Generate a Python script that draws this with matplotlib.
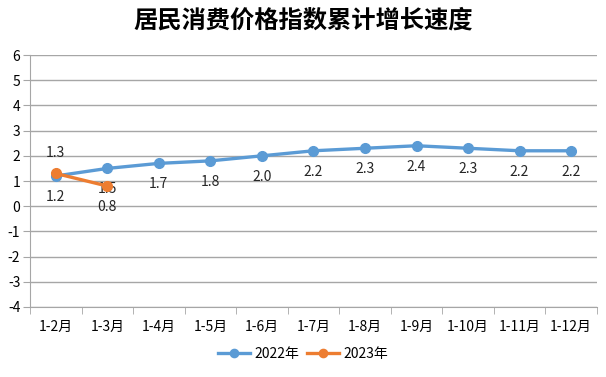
import numpy as np
import matplotlib
matplotlib.use('Agg')
import matplotlib.pyplot as plt

plt.rcParams['font.family'] = ['Noto Sans CJK SC', 'DejaVu Sans']
plt.rcParams['axes.unicode_minus'] = False

# Data
months = ['1-2月', '1-3月', '1-4月', '1-5月', '1-6月', '1-7月',
          '1-8月', '1-9月', '1-10月', '1-11月', '1-12月']
cpi_2022 = [1.2, 1.5, 1.7, 1.8, 2.0, 2.2, 2.3, 2.4, 2.3, 2.2, 2.2]
cpi_2023 = [1.3, 0.8]
label_2023_pos = ['above', 'below']

blue = '#5B9BD5'
orange = '#ED7D31'
grid_c = '#A6A6A6'

fig = plt.figure(figsize=(6.06, 3.77), dpi=100)
ax = fig.add_axes([0.0495, 0.1857, 0.9355, 0.6683])

x = np.arange(len(months))
ax.plot(x, cpi_2022, '-o', color=blue, lw=2.4, ms=7, label='2022年', zorder=3)
ax.plot(x[:len(cpi_2023)], cpi_2023, '-o', color=orange, lw=2.4, ms=7,
        label='2023年', zorder=4)

# Data labels
for xi, v in zip(x, cpi_2022):
    ax.annotate('%.1f' % v, (xi, v), xytext=(0, -10), textcoords='offset points',
                ha='center', va='top', fontsize=10, color='#262626')
for xi, v, pos in zip(x, cpi_2023, label_2023_pos):
    off = 10 if pos == 'above' else -10
    ax.annotate('%.1f' % v, (xi, v), xytext=(0, off), textcoords='offset points',
                ha='center', va='bottom' if pos == 'above' else 'top',
                fontsize=10, color='#262626')

ax.set_xlim(-0.5, len(months) - 0.5)
ax.set_ylim(-4, 6)
ax.set_yticks(range(-4, 7))
ax.set_xticks(x)
ax.set_xticklabels(months, fontsize=10)
ax.set_xticks(np.arange(-0.5, len(months)), minor=True)
ax.tick_params(axis='x', which='major', length=0, pad=9)
ax.tick_params(axis='x', which='minor', length=5, color=grid_c)
ax.tick_params(axis='y', length=5, color=grid_c, labelsize=10, pad=2)
ax.grid(axis='y', color=grid_c, lw=1)
ax.set_axisbelow(True)

for s in ['top', 'right']:
    ax.spines[s].set_visible(False)
for s in ['left', 'bottom']:
    ax.spines[s].set_color(grid_c)

fig.text(0.5, 0.945, '居民消费价格指数累计增长速度', ha='center', va='center',
         fontsize=17.5, fontweight='bold')

fig.legend(loc='center', bbox_to_anchor=(0.5, 0.062), ncol=2, frameon=False,
           fontsize=10, handlelength=2.3, columnspacing=0.6, handletextpad=0.3,
           markerscale=0.85)

fig.savefig('out.png', dpi=100)
